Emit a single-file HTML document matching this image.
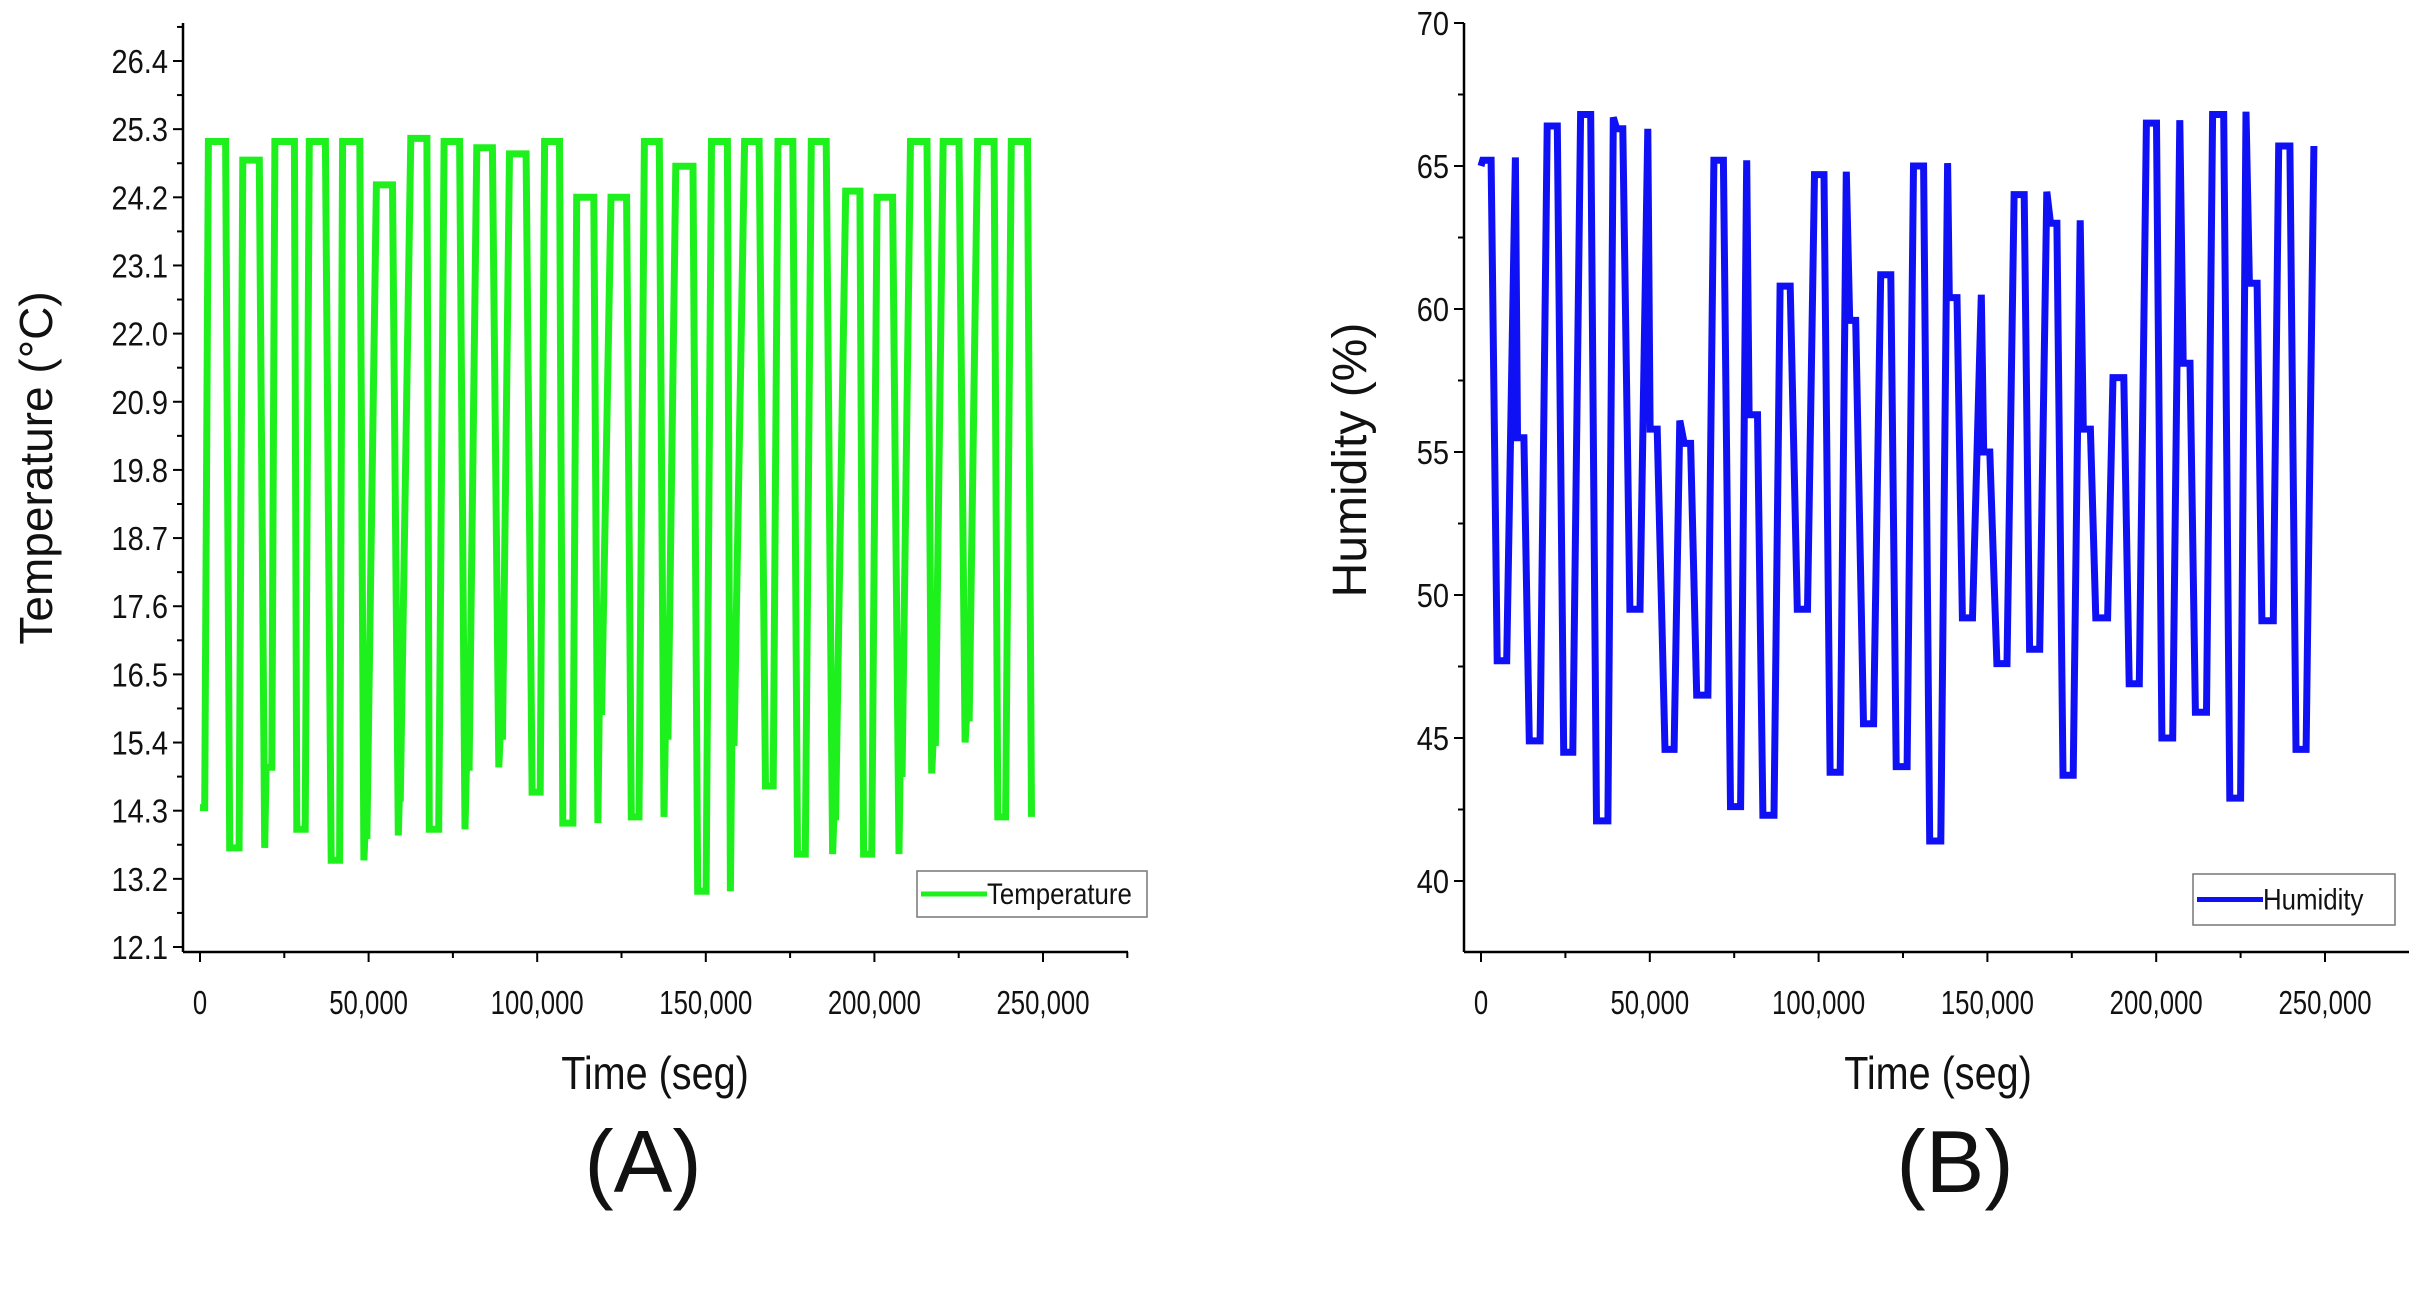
<!DOCTYPE html>
<html><head><meta charset="utf-8"><style>
html,body{margin:0;padding:0;background:#fff;}
svg{display:block;font-family:"Liberation Sans",Arial,sans-serif;}
</style></head><body>
<svg id="fig" width="2418" height="1292" viewBox="0 0 2418 1292"></svg>
<script>
// Panel A data (time in thousands of seconds, temperature °C)
const tempTime=[0,1.4,2.5,7.6,8.8,11.6,12.7,17.6,19.2,19.6,21.3,22.2,28.0,28.7,31.2,32.4,37.2,38.9,41.4,42.3,47.4,48.6,48.9,49.5,52.3,57.1,58.8,59.1,59.4,62.5,67.3,68.0,70.8,72.4,77.0,78.6,79.0,79.8,82.1,86.7,88.6,89.0,89.7,91.8,96.7,98.5,100.9,102.2,106.6,107.6,110.6,111.7,116.8,118.0,118.4,119.1,121.9,126.5,127.9,130.2,131.8,136.2,137.6,138.0,138.8,141.1,146.2,147.6,150.1,151.7,156.4,157.3,157.7,158.4,161.5,165.8,167.7,170.0,171.4,175.8,177.2,179.5,181.3,185.7,187.6,188.0,188.5,191.5,195.7,196.8,199.2,200.8,205.4,207.3,207.6,208.2,210.7,215.6,217.0,217.4,218.1,220.4,225.1,226.9,227.3,228.1,230.6,235.5,236.6,238.9,240.6,245.4,246.6];
const tempValue=[14.35,14.35,25.1,25.1,13.7,13.7,24.8,24.8,13.7,15.0,15.0,25.1,25.1,14.0,14.0,25.1,25.1,13.5,13.5,25.1,25.1,13.5,13.9,13.9,24.4,24.4,13.9,14.5,14.5,25.15,25.15,14.0,14.0,25.1,25.1,14.0,15.0,15.0,25.0,25.0,15.0,15.5,15.5,24.9,24.9,14.6,14.6,25.1,25.1,14.1,14.1,24.2,24.2,14.1,15.9,15.9,24.2,24.2,14.2,14.2,25.1,25.1,14.2,15.5,15.5,24.7,24.7,13.0,13.0,25.1,25.1,13.0,15.4,15.4,25.1,25.1,14.7,14.7,25.1,25.1,13.6,13.6,25.1,25.1,13.6,14.2,14.2,24.3,24.3,13.6,13.6,24.2,24.2,13.6,14.9,14.9,25.1,25.1,14.9,15.4,15.4,25.1,25.1,15.4,15.8,15.8,25.1,25.1,14.2,14.2,25.1,25.1,14.2];
// Panel B data (time in thousands of seconds, humidity %)
const humTime=[0,0.5,3.0,4.8,7.6,10.2,10.8,12.7,14.3,17.5,19.6,22.6,24.5,27.2,29.5,32.5,34.2,37.6,39.2,40.2,42.0,44.1,47.1,49.4,50.1,52.2,54.5,57.2,58.9,60.2,62.1,63.9,67.2,69.0,71.8,73.9,76.9,78.7,79.4,81.9,83.5,86.8,88.6,91.6,93.7,96.7,98.8,101.6,103.4,106.4,108.2,109.2,111.0,113.3,116.3,118.4,121.4,123.0,126.2,128.1,131.1,132.9,136.2,138.2,138.7,141.0,142.6,145.6,148.2,148.9,150.7,152.8,155.8,157.9,160.9,162.5,165.5,167.6,168.7,170.6,172.4,175.4,177.5,178.4,180.5,182.1,185.6,187.2,190.4,192.0,195.0,197.1,200.1,201.7,204.9,207.0,208.0,210.0,211.6,214.9,216.7,220.0,221.8,225.0,226.6,227.6,229.9,231.3,234.7,236.3,239.6,241.4,244.4,246.7];
const humValue=[65.0,65.2,65.2,47.7,47.7,65.3,55.5,55.5,44.9,44.9,66.4,66.4,44.5,44.5,66.8,66.8,42.1,42.1,66.7,66.3,66.3,49.5,49.5,66.3,55.8,55.8,44.6,44.6,56.1,55.3,55.3,46.5,46.5,65.2,65.2,42.6,42.6,65.2,56.3,56.3,42.3,42.3,60.8,60.8,49.5,49.5,64.7,64.7,43.8,43.8,64.8,59.6,59.6,45.5,45.5,61.2,61.2,44.0,44.0,65.0,65.0,41.4,41.4,65.1,60.4,60.4,49.2,49.2,60.5,55.0,55.0,47.6,47.6,64.0,64.0,48.1,48.1,64.1,63.0,63.0,43.7,43.7,63.1,55.8,55.8,49.2,49.2,57.6,57.6,46.9,46.9,66.5,66.5,45.0,45.0,66.6,58.1,58.1,45.9,45.9,66.8,66.8,42.9,42.9,66.9,60.9,60.9,49.1,49.1,65.7,65.7,44.6,44.6,65.7];
const xTicks=[0,50000,100000,150000,200000,250000];
const xTickLabels=["0","50,000","100,000","150,000","200,000","250,000"];
const tempTicks=[12.1,13.2,14.3,15.4,16.5,17.6,18.7,19.8,20.9,22.0,23.1,24.2,25.3,26.4];
const humTicks=[40,45,50,55,60,65,70];

const NS="http://www.w3.org/2000/svg";
const svg=document.getElementById('fig');
function mk(tag,attrs,parent){const e=document.createElementNS(NS,tag);for(const k in attrs)e.setAttribute(k,attrs[k]);(parent||svg).appendChild(e);return e;}
function narrow(t,f){const w=t.getComputedTextLength();t.setAttribute('textLength',(w*f).toFixed(1));t.setAttribute('lengthAdjust','spacingAndGlyphs');}

function panel(cfg){
  const g=mk('g',{});
  
  
  const X=t=>cfg.x0+(t/250000)*(cfg.x250-cfg.x0);
  const Y=v=>cfg.yA+(v-cfg.vA)/(cfg.vB-cfg.vA)*(cfg.yB-cfg.yA);
  const ya=mk('line',{x1:cfg.ax,y1:cfg.top,x2:cfg.ax,y2:cfg.bot,stroke:'#000','stroke-width':2.5},g);
  
  
  const xa=mk('line',{x1:cfg.ax,y1:cfg.bot,x2:cfg.right,y2:cfg.bot,stroke:'#000','stroke-width':2.5},g);
  
  
  for(let i=0;i<xTicks.length;i++){
    const x=X(xTicks[i]);
    mk('line',{x1:x,y1:cfg.bot,x2:x,y2:cfg.bot+10,stroke:'#000','stroke-width':2},g);
    const mx=X(xTicks[i]+25000);
    if(mx<cfg.right) mk('line',{x1:mx,y1:cfg.bot,x2:mx,y2:cfg.bot+6,stroke:'#000','stroke-width':2},g);
    const t=mk('text',{x:x,y:1014,'font-size':33,'text-anchor':'middle',fill:'#111'},g);
    t.textContent=xTickLabels[i];
    
    
    narrow(t,0.78);
  }
  const yt=cfg.ticks;
  for(let i=0;i<yt.length;i++){
    const y=Y(yt[i]);
    mk('line',{x1:cfg.ax-10,y1:y,x2:cfg.ax,y2:y,stroke:'#000','stroke-width':2},g);
    const t=mk('text',{x:cfg.ax-15,y:y+12,'font-size':33,'text-anchor':'end',fill:'#111'},g);
    t.textContent=cfg.fmt(yt[i]);
    
    
    narrow(t,0.88);
    if(i<yt.length-1){const my=Y((yt[i]+yt[i+1])/2);mk('line',{x1:cfg.ax-6,y1:my,x2:cfg.ax,y2:my,stroke:'#000','stroke-width':2},g);}
  }
  const lm=Y(yt[yt.length-1]+(yt[1]-yt[0])/2);
  if(lm>cfg.top) mk('line',{x1:cfg.ax-6,y1:lm,x2:cfg.ax,y2:lm,stroke:'#000','stroke-width':2},g);
  let d='';
  for(let i=0;i<cfg.tt.length;i++){d+=(i?'L':'M')+X(cfg.tt[i]*1000).toFixed(1)+','+Y(cfg.vv[i]).toFixed(1);}
  const p=mk('path',{d:d,fill:'none',stroke:cfg.color,'stroke-width':7,'stroke-linejoin':'miter','stroke-miterlimit':3},g);
  
  
  const yt2=mk('text',{x:0,y:0,'font-size':cfg.ytsize,'text-anchor':'middle',fill:'#111',transform:`translate(${cfg.ytx},${cfg.yty}) rotate(-90)`},g);
  yt2.textContent=cfg.ytitle;
  
  
  const xt=mk('text',{x:cfg.xtx,y:1089,'font-size':46,'text-anchor':'middle',fill:'#111'},g);
  xt.textContent='Time (seg)';
  
  
  narrow(xt,0.86);
  const pl=mk('text',{x:cfg.plx,y:1192,'font-size':88,'text-anchor':'middle',fill:'#111'},g);
  pl.textContent=cfg.label;
  
  
  const lg=mk('g',{},g);
  
  
  mk('rect',{x:cfg.lx,y:cfg.ly,width:cfg.lw,height:cfg.lh,fill:'#fff',stroke:'#777','stroke-width':1.5},lg);
  const ll=mk('line',{x1:cfg.lx+4,y1:cfg.ly+cfg.lh/2,x2:cfg.lx+70,y2:cfg.ly+cfg.lh/2,stroke:cfg.color,'stroke-width':5},lg);
  
  
  const lt=mk('text',{x:cfg.lx+70,y:cfg.ly+cfg.lh/2+10,'font-size':30,fill:'#111'},lg);
  lt.textContent=cfg.seriesLabel;
  
  
  narrow(lt,0.86);
}
panel({name:'temperature-panel',x0:200,x250:1043,ax:183,top:23,bot:952,right:1128,
  vA:26.4,yA:61,vB:12.1,yB:947,ticks:tempTicks,fmt:v=>v.toFixed(1),
  tt:tempTime,vv:tempValue,color:'#1ef01e',seriesName:'temperature-line',seriesLabel:'Temperature',
  ytitle:'Temperature (°C)',ytsize:46,ytx:52,yty:468,xtx:655,plx:643,label:'(A)',lx:917,ly:871,lw:230,lh:46});
panel({name:'humidity-panel',x0:1481,x250:2325,ax:1464,top:23,bot:952,right:2409,
  vA:70,yA:23,vB:40,yB:881,ticks:humTicks,fmt:v=>String(v),
  tt:humTime,vv:humValue,color:'#1010f5',seriesName:'humidity-line',seriesLabel:'Humidity',
  ytitle:'Humidity (%)',ytsize:48,ytx:1366,yty:460,xtx:1938,plx:1955,label:'(B)',lx:2193,ly:874,lw:202,lh:51});
</script>
</body></html>
